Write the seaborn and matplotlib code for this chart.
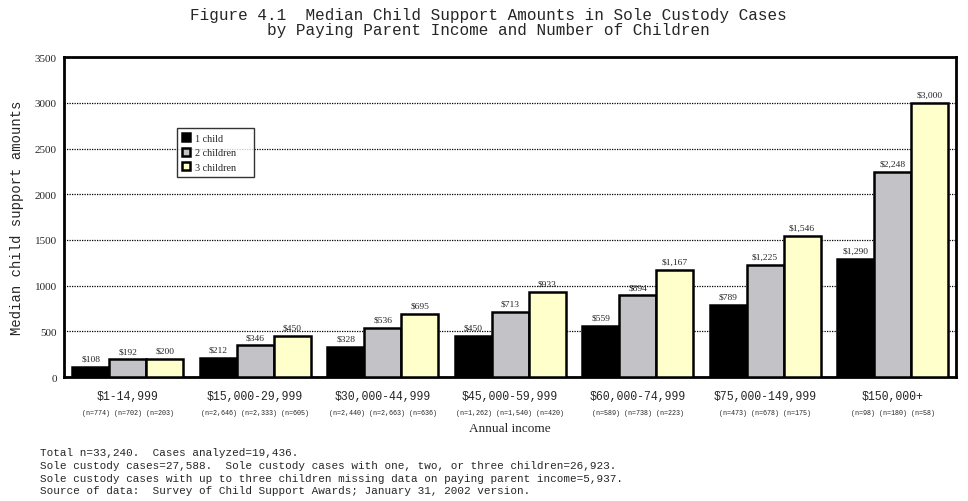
import pandas as pd
import seaborn as sns
import matplotlib.pyplot as plt
import matplotlib.transforms as mtransforms

# 数据
income = ['$1-14,999', '$15,000-29,999', '$30,000-44,999', '$45,000-59,999',
          '$60,000-74,999', '$75,000-149,999', '$150,000+']
one_child = [108, 212, 328, 450, 559, 789, 1290]
two_children = [192, 346, 536, 713, 894, 1225, 2248]
three_children = [200, 450, 695, 933, 1167, 1546, 3000]
n_labels = ['(n=774) (n=702) (n=203)', '(n=2,646) (n=2,333) (n=605)',
            '(n=2,440) (n=2,663) (n=636)', '(n=1,262) (n=1,540) (n=420)',
            '(n=589) (n=738) (n=223)', '(n=473) (n=678) (n=175)',
            '(n=98) (n=180) (n=58)']
series = ['1 child', '2 children', '3 children']
colors = ['#000000', '#C3C2C6', '#FFFFCC']

rows = []
for s, vals in zip(series, [one_child, two_children, three_children]):
    for inc, v in zip(income, vals):
        rows.append({'income': inc, 'children': s, 'amount': v})
df = pd.DataFrame(rows)

sns.set_style('white')
mono = 'Liberation Mono'
serif = 'Liberation Serif'

fig = plt.figure(figsize=(9.68, 5.02), dpi=100)
ax = fig.add_axes([0.066, 0.247, 0.922, 0.637])

sns.barplot(data=df, x='income', y='amount', hue='children', palette=colors,
            saturation=1, width=0.87, edgecolor='black', linewidth=1.8,
            ax=ax, zorder=3)

for cont in ax.containers:
    ax.bar_label(cont, labels=[f'${int(v):,}' for v in cont.datavalues],
                 padding=3, fontsize=6.8, family=serif)

ax.set_xlim(-0.5, 6.5)
ax.set_ylim(0, 3500)
ax.set_yticks(range(0, 3501, 500))
ax.yaxis.grid(True, linestyle=(0, (1, 1)), color='black', linewidth=0.9, zorder=0)
ax.set_axisbelow(True)
for sp in ax.spines.values():
    sp.set_linewidth(2)
    sp.set_color('black')

ax.tick_params(axis='y', labelsize=8, length=0, pad=5)
ax.tick_params(axis='x', length=0, pad=9)
for t in ax.get_yticklabels():
    t.set_family(serif)
for t in ax.get_xticklabels():
    t.set_family(mono)
    t.set_fontsize(8.3)

ax.set_xlabel('Annual income', family=serif, fontsize=9.5, labelpad=15)
ax.set_ylabel('Median child support amounts', family=mono, fontsize=10, labelpad=8)

trans = mtransforms.blended_transform_factory(ax.transData, ax.transAxes)
for i, lab in enumerate(n_labels):
    ax.text(i, -0.11, lab, transform=trans, ha='center', va='center',
            fontsize=4.9, family=mono)

leg = ax.legend(loc='upper left', bbox_to_anchor=(0.127, 0.778), frameon=True,
                fancybox=False, edgecolor='black', prop={'family': serif, 'size': 7.3},
                handlelength=0.8, handleheight=0.8, handletextpad=0.5,
                borderpad=0.5, labelspacing=0.5, borderaxespad=0)
leg.get_frame().set_linewidth(1)
for t in leg.get_texts():
    t.set_text(t.get_text() + '     ')

fig.text(0.505, 0.985, 'Figure 4.1  Median Child Support Amounts in Sole Custody Cases\n'
         'by Paying Parent Income and Number of Children',
         ha='center', va='top', family=mono, fontsize=11.5, linespacing=1.08)

notes = ('Total n=33,240.  Cases analyzed=19,436.\n'
         'Sole custody cases=27,588.  Sole custody cases with one, two, or three children=26,923.\n'
         'Sole custody cases with up to three children missing data on paying parent income=5,937.\n'
         'Source of data:  Survey of Child Support Awards; January 31, 2002 version.')
fig.text(0.041, 0.108, notes, ha='left', va='top', family=mono, fontsize=7.9,
         linespacing=1.36)

plt.savefig('out.png', dpi=100)
